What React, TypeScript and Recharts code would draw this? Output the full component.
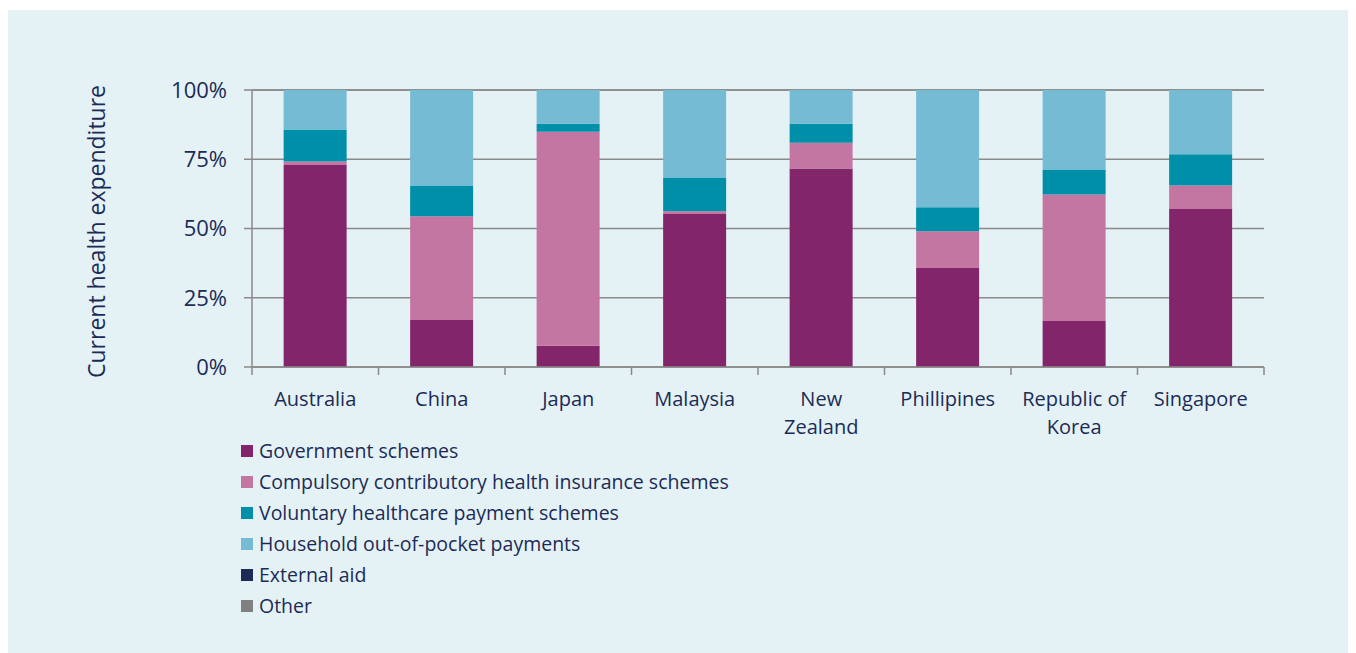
import React from "react";
import { BarChart, Bar, XAxis, YAxis, CartesianGrid, Legend } from "recharts";

const categories = ["Australia", "China", "Japan", "Malaysia", "New Zealand", "Phillipines", "Republic of Korea", "Singapore"];
const tickLabels = [["Australia"], ["China"], ["Japan"], ["Malaysia"], ["New", "Zealand"], ["Phillipines"], ["Republic of", "Korea"], ["Singapore"]];
const seriesNames = [
  "Government schemes",
  "Compulsory contributory health insurance schemes",
  "Voluntary healthcare payment schemes",
  "Household out-of-pocket payments",
  "External aid",
  "Other",
];
const government = [72.9, 17.0, 7.7, 55.2, 71.7, 35.7, 16.6, 57.0];
const compulsory = [1.3, 37.4, 77.2, 1.0, 9.3, 13.3, 45.7, 8.5];
const voluntary = [11.5, 10.9, 2.9, 12.0, 6.8, 8.7, 8.8, 11.3];
const household = [14.3, 34.7, 12.2, 31.8, 12.2, 42.3, 28.9, 23.2];
const externalAid = [0, 0, 0, 0, 0, 0, 0, 0];
const other = [0, 0, 0, 0, 0, 0, 0, 0];
const yTicks = [0, 25, 50, 75, 100];

const data = categories.map((c, i) => ({
  name: c,
  gov: government[i],
  comp: compulsory[i],
  vol: voluntary[i],
  hh: household[i],
  ext: externalAid[i],
  oth: other[i],
}));

const TEXT = "#1c2b56";
const GRID = "#8a8a8a";
const FONT = "'Open Sans', sans-serif";

const XTick = (props: any) => {
  const { x, y, payload, index, visibleTicksCount } = props;
  const half = payload.offset || 0;
  const lines: string[] = tickLabels[index] || [String(payload.value)];
  const last = index === (visibleTicksCount ?? categories.length) - 1;
  return (
    <g>
      <line x1={x - half} x2={x - half} y1={y} y2={y + 8} stroke={GRID} strokeWidth={1.5} />
      {last && <line x1={x + half} x2={x + half} y1={y} y2={y + 8} stroke={GRID} strokeWidth={1.5} />}
      <text x={x} y={y + 39} textAnchor="middle" fill={TEXT} fontSize={20} fontFamily={FONT}>
        {lines.map((l, i) => (
          <tspan key={i} x={x} dy={i === 0 ? 0 : 28}>{l}</tspan>
        ))}
      </text>
    </g>
  );
};

const YLabel = (props: any) => {
  const { viewBox } = props;
  const cx = viewBox.x + 88;
  const cy = viewBox.y + viewBox.height / 2 + 3;
  return (
    <text x={cx} y={cy} transform={`rotate(-90, ${cx}, ${cy})`} textAnchor="middle" dominantBaseline="central" fill={TEXT} fontSize={23} fontFamily={FONT}>
      Current health expenditure
    </text>
  );
};

const LegendContent = (props: any) => {
  const { payload } = props;
  const items = [...(payload || [])].sort((a: any, b: any) => seriesNames.indexOf(a.value) - seriesNames.indexOf(b.value));
  return (
    <div style={{ fontFamily: FONT, fontSize: 19.5, color: TEXT }}>
      {items.map((p: any, i: number) => (
        <div key={i} style={{ display: "flex", alignItems: "center", height: 31, whiteSpace: "nowrap" }}>
          <span style={{ display: "inline-block", width: 12, height: 12, background: p.color, marginRight: 6 }} />
          <span>{p.value}</span>
        </div>
      ))}
    </div>
  );
};

export default function App() {
  return (
    <div style={{ width: 1348, height: 643, background: "#e4f2f6", marginTop: 2 }}>
      <BarChart
        width={1348}
        height={643}
        data={data}
        margin={{ top: 80, right: 92, left: 0, bottom: 206 }}
        barCategoryGap="25%"
      >
        <CartesianGrid vertical={false} stroke={GRID} strokeWidth={1.5} />
        <XAxis
          dataKey="name"
          height={80}
          axisLine={{ stroke: GRID, strokeWidth: 1.5 }}
          tickLine={false}
          tickSize={0}
          tickMargin={0}
          interval={0}
          tick={<XTick />}
        />
        <YAxis
          width={244}
          domain={[0, 100]}
          ticks={yTicks}
          tickFormatter={(v: number) => `${v}%`}
          axisLine={{ stroke: GRID, strokeWidth: 1.5 }}
          tickLine={{ stroke: GRID, strokeWidth: 1.5 }}
          tickSize={8}
          tickMargin={17}
          tick={{ fill: TEXT, fontSize: 22, fontFamily: FONT }}
          label={<YLabel />}
        />
        <Legend
          layout="vertical"
          align="center"
          verticalAlign="middle"
          content={<LegendContent />}
          wrapperStyle={{ left: 233, top: 425, width: 600 }}
        />
        <Bar dataKey="gov" name={seriesNames[0]} stackId="a" fill="#83256a" isAnimationActive={false} />
        <Bar dataKey="comp" name={seriesNames[1]} stackId="a" fill="#c476a3" isAnimationActive={false} />
        <Bar dataKey="vol" name={seriesNames[2]} stackId="a" fill="#008fa9" isAnimationActive={false} />
        <Bar dataKey="hh" name={seriesNames[3]} stackId="a" fill="#76bbd4" isAnimationActive={false} />
        <Bar dataKey="ext" name={seriesNames[4]} stackId="a" fill="#1c2b56" isAnimationActive={false} />
        <Bar dataKey="oth" name={seriesNames[5]} stackId="a" fill="#808080" isAnimationActive={false} />
      </BarChart>
    </div>
  );
}
